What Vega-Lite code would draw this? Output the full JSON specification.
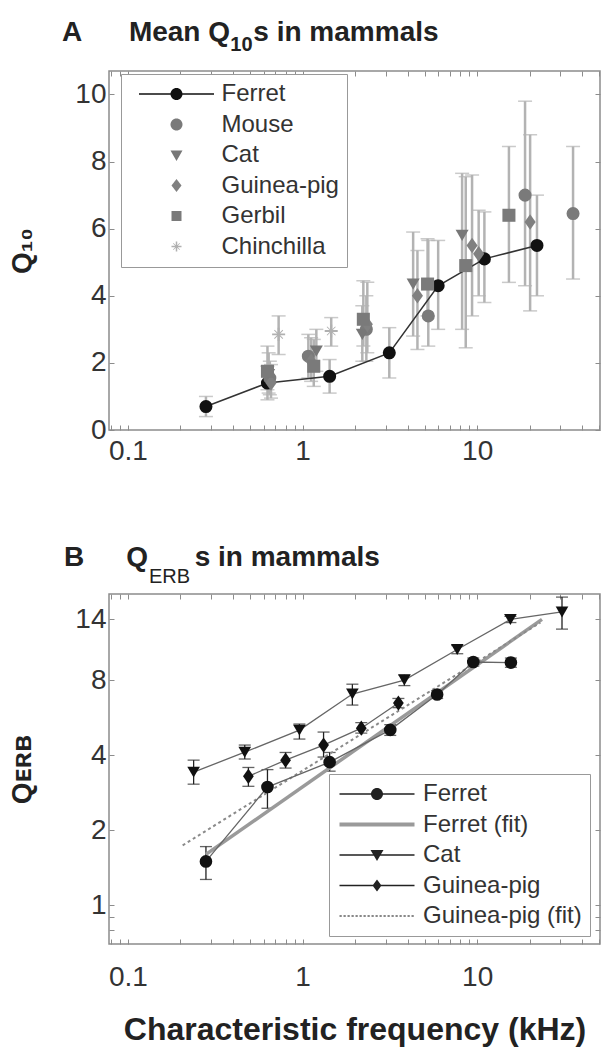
{
  "$schema": "https://vega.github.io/schema/vega-lite/v6.json",
  "background": "white",
  "padding": {"left": 8, "top": 17, "right": 10, "bottom": 4},
  "spacing": 76,
  "config": {
    "font": "Liberation Sans",
    "view": {"stroke": "#8c8c8c", "strokeWidth": 1.5},
    "axis": {
      "domain": false, "grid": false, "tickColor": "#8c8c8c", "tickSize": -5, "tickWidth": 1,
      "labelFont": "Liberation Sans", "labelFontSize": 28, "labelColor": "#333333", "labelPadding": 12,
      "titleFont": "Liberation Sans", "titleFontSize": 28, "titleFontWeight": "bold", "titleColor": "#222222",
      "labelOverlap": false
    },
    "title": {"font": "Liberation Sans", "fontSize": 28, "fontWeight": "bold", "color": "#222222", "anchor": "start", "frame": "group",
      "subtitleFont": "Liberation Sans", "subtitleFontSize": 20, "subtitleColor": "#222222", "subtitleFontWeight": "bold", "subtitlePadding": 0}
  },
  "datasets": {
    "a": [
      {"sp": "Ferret", "x": 0.28, "y": 0.70, "lo": 0.40, "hi": 1.00},
      {"sp": "Ferret", "x": 0.63, "y": 1.40, "lo": 0.90, "hi": 1.90},
      {"sp": "Ferret", "x": 1.43, "y": 1.60, "lo": 1.10, "hi": 2.10},
      {"sp": "Ferret", "x": 3.14, "y": 2.30, "lo": 1.55, "hi": 3.05},
      {"sp": "Ferret", "x": 5.98, "y": 4.30, "lo": 3.00, "hi": 5.65},
      {"sp": "Ferret", "x": 11.0, "y": 5.10, "lo": 3.80, "hi": 6.50},
      {"sp": "Ferret", "x": 22.0, "y": 5.50, "lo": 4.00, "hi": 7.00},
      {"sp": "Mouse", "x": 0.65, "y": 1.55, "lo": 1.05, "hi": 2.05},
      {"sp": "Mouse", "x": 1.08, "y": 2.20, "lo": 1.55, "hi": 2.85},
      {"sp": "Mouse", "x": 2.32, "y": 3.00, "lo": 2.05, "hi": 4.00},
      {"sp": "Mouse", "x": 5.25, "y": 3.40, "lo": 2.50, "hi": 5.65},
      {"sp": "Mouse", "x": 18.8, "y": 7.00, "lo": 4.30, "hi": 9.80},
      {"sp": "Mouse", "x": 35.4, "y": 6.45, "lo": 4.50, "hi": 8.45},
      {"sp": "Cat", "x": 0.64, "y": 1.65, "lo": 1.10, "hi": 2.30},
      {"sp": "Cat", "x": 1.20, "y": 2.35, "lo": 1.75, "hi": 3.00},
      {"sp": "Cat", "x": 2.20, "y": 2.85, "lo": 2.05, "hi": 3.70},
      {"sp": "Cat", "x": 4.30, "y": 4.35, "lo": 2.80, "hi": 5.90},
      {"sp": "Cat", "x": 8.20, "y": 5.80, "lo": 3.00, "hi": 7.65},
      {"sp": "Guinea-pig", "x": 0.66, "y": 1.40, "lo": 0.95, "hi": 1.95},
      {"sp": "Guinea-pig", "x": 1.12, "y": 2.05, "lo": 1.45, "hi": 2.75},
      {"sp": "Guinea-pig", "x": 2.35, "y": 3.15, "lo": 2.30, "hi": 4.40},
      {"sp": "Guinea-pig", "x": 4.55, "y": 4.00, "lo": 2.40, "hi": 5.35},
      {"sp": "Guinea-pig", "x": 9.35, "y": 5.50, "lo": 3.40, "hi": 7.60},
      {"sp": "Guinea-pig", "x": 10.2, "y": 5.25, "lo": 4.00, "hi": 6.55},
      {"sp": "Guinea-pig", "x": 20.1, "y": 6.20, "lo": 3.55, "hi": 8.80},
      {"sp": "Gerbil", "x": 0.63, "y": 1.75, "lo": 1.20, "hi": 2.50},
      {"sp": "Gerbil", "x": 1.16, "y": 1.90, "lo": 1.30, "hi": 2.70},
      {"sp": "Gerbil", "x": 2.23, "y": 3.30, "lo": 2.50, "hi": 4.45},
      {"sp": "Gerbil", "x": 5.20, "y": 4.35, "lo": 3.40, "hi": 5.70},
      {"sp": "Gerbil", "x": 8.60, "y": 4.90, "lo": 2.45, "hi": 7.55},
      {"sp": "Gerbil", "x": 15.2, "y": 6.40, "lo": 4.40, "hi": 8.45},
      {"sp": "Chinchilla", "x": 0.73, "y": 2.85, "lo": 2.25, "hi": 3.40},
      {"sp": "Chinchilla", "x": 1.46, "y": 2.95, "lo": 2.50, "hi": 3.35}
    ],
    "b": [
      {"sp": "Ferret", "x": 0.28, "y": 1.50, "lo": 1.27, "hi": 1.72},
      {"sp": "Ferret", "x": 0.63, "y": 2.98, "lo": 2.45, "hi": 3.50},
      {"sp": "Ferret", "x": 1.43, "y": 3.75, "lo": 3.45, "hi": 4.10},
      {"sp": "Ferret", "x": 3.18, "y": 5.05, "lo": 4.80, "hi": 5.30},
      {"sp": "Ferret", "x": 5.90, "y": 7.00, "lo": 6.75, "hi": 7.25},
      {"sp": "Ferret", "x": 9.50, "y": 9.45, "lo": 9.10, "hi": 9.80},
      {"sp": "Ferret", "x": 15.6, "y": 9.40, "lo": 9.00, "hi": 9.80},
      {"sp": "Cat", "x": 0.238, "y": 3.42, "lo": 3.06, "hi": 3.82},
      {"sp": "Cat", "x": 0.467, "y": 4.11, "lo": 3.86, "hi": 4.39},
      {"sp": "Cat", "x": 0.96, "y": 5.04, "lo": 4.64, "hi": 5.33},
      {"sp": "Cat", "x": 1.93, "y": 7.03, "lo": 6.35, "hi": 7.70},
      {"sp": "Cat", "x": 3.83, "y": 8.00, "lo": 7.60, "hi": 8.40},
      {"sp": "Cat", "x": 7.69, "y": 10.6, "lo": 10.2, "hi": 11.0},
      {"sp": "Cat", "x": 15.5, "y": 14.0, "lo": 13.6, "hi": 14.4},
      {"sp": "Cat", "x": 30.6, "y": 15.0, "lo": 12.8, "hi": 17.2},
      {"sp": "Guinea-pig", "x": 0.49, "y": 3.29, "lo": 3.00, "hi": 3.57},
      {"sp": "Guinea-pig", "x": 0.80, "y": 3.82, "lo": 3.55, "hi": 4.10},
      {"sp": "Guinea-pig", "x": 1.32, "y": 4.39, "lo": 3.93, "hi": 4.95},
      {"sp": "Guinea-pig", "x": 2.17, "y": 5.13, "lo": 4.90, "hi": 5.40},
      {"sp": "Guinea-pig", "x": 3.54, "y": 6.47, "lo": 6.20, "hi": 6.75}
    ],
    "bfit": [
      {"sp": "Ferret (fit)", "x": 0.28, "y": 1.6},
      {"sp": "Ferret (fit)", "x": 23.5, "y": 14.0},
      {"sp": "Guinea-pig (fit)", "x": 0.206, "y": 1.74},
      {"sp": "Guinea-pig (fit)", "x": 23.0, "y": 13.6}
    ]
  },
  "vconcat": [
    {
      "width": 491,
      "height": 359,
      "title": {"text": "A\u2003\u2002\u2006Mean Q\u2002\u2004s in mammals", "subtitle": "\u200b\u2003\u2003\u2003\u2003\u2003\u2003\u2003\u2003\u2005\u200610", "subtitlePadding": -12, "dx": -47, "offset": 16},
      "layer": [
        {
          "data": {"name": "a"},
          "mark": {"type": "errorbar", "ticks": {"size": 14, "color": "#b3b3b3", "thickness": 1.5}, "rule": {"color": "#b3b3b3", "strokeWidth": 2.5}},
          "encoding": {
            "x": {"field": "x", "type": "quantitative", "title": null,
              "scale": {"type": "log", "domain": [0.078, 50.5], "nice": false},
              "axis": {"values": [0.08,0.09,0.1,0.2,0.3,0.4,0.5,0.6,0.7,0.8,0.9,1,2,3,4,5,6,7,8,9,10,20,30,40,50],
                "labelExpr": "datum.value == 0.1 || datum.value == 1 || datum.value == 10 ? datum.value + '' : ''"}},
            "y": {"field": "lo", "type": "quantitative", "title": "Q\u2081\u2080",
              "scale": {"domain": [0, 10.7], "nice": false, "zero": false},
              "axis": {"values": [0, 2, 4, 6, 8, 10], "titlePadding": 38, "labelPadding": 8}},
            "y2": {"field": "hi"}
          }
        },
        {
          "data": {"name": "a"},
          "transform": [{"filter": "datum.sp == 'Ferret'"}],
          "mark": {"type": "line", "color": "#333333", "strokeWidth": 1.5},
          "encoding": {
            "x": {"field": "x", "type": "quantitative", "title": null,
              "axis": {"orient": "top", "labels": false, "title": null, "values": [0.08,0.09,0.1,0.2,0.3,0.4,0.5,0.6,0.7,0.8,0.9,1,2,3,4,5,6,7,8,9,10,20,30,40,50]}},
            "y": {"field": "y", "type": "quantitative", "title": "Q\u2081\u2080",
              "axis": {"orient": "right", "labels": false, "title": null, "values": [0, 2, 4, 6, 8, 10]}}
          }
        },
        {
          "data": {"name": "a"},
          "mark": {"type": "point", "filled": true, "size": 170, "opacity": 1, "strokeWidth": 0},
          "encoding": {
            "x": {"field": "x", "type": "quantitative", "title": null, "axis": null},
            "y": {"field": "y", "type": "quantitative", "title": "Q\u2081\u2080", "axis": null},
            "shape": {"field": "sp", "type": "nominal", "legend": null,
              "scale": {"domain": ["Ferret", "Mouse", "Cat", "Guinea-pig", "Gerbil", "Chinchilla"],
                "range": ["circle", "circle", "triangle-down", "M0,-1.2L0.85,0L0,1.2L-0.85,0Z", "square",
                  "M-1,-0.15H1V0.15H-1Z M-0.15,-1H0.15V1H-0.15Z M-0.6,-0.7L0.7,0.6L0.6,0.7L-0.7,-0.6Z M0.6,-0.7L0.7,-0.6L-0.6,0.7L-0.7,0.6Z"]}},
            "color": {"field": "sp", "type": "nominal", "legend": null,
              "scale": {"domain": ["Ferret", "Mouse", "Cat", "Guinea-pig", "Gerbil", "Chinchilla"],
                "range": ["#111111", "#7a7a7a", "#777777", "#808080", "#7a7a7a", "#b0b0b0"]}}
          }
        },
        {
          "data": {"name": "a"},
          "transform": [{"filter": "false"}],
          "mark": {"type": "point", "filled": true, "opacity": 1, "strokeWidth": 0},
          "encoding": {
            "shape": {"field": "sp", "type": "nominal",
              "scale": {"domain": ["Ferret", "Mouse", "Cat", "Guinea-pig", "Gerbil", "Chinchilla"],
                "range": [
                  "M-7.5,-0.13H7.5V0.13H-7.5Z M-1.2,0A1.2,1.2 0 1,1 1.2,0A1.2,1.2 0 1,1 -1.2,0Z",
                  "M-1.2,0A1.2,1.2 0 1,1 1.2,0A1.2,1.2 0 1,1 -1.2,0Z",
                  "M-1.2,-0.9L1.2,-0.9L0,1.2Z",
                  "M0,-1.3L1,0L0,1.3L-1,0Z",
                  "M-1,-1H1V1H-1Z",
                  "M-1,-0.15H1V0.15H-1Z M-0.15,-1H0.15V1H-0.15Z M-0.6,-0.7L0.7,0.6L0.6,0.7L-0.7,-0.6Z M0.6,-0.7L0.7,-0.6L-0.6,0.7L-0.7,0.6Z"]},
              "legend": {"orient": "none", "legendX": 12, "legendY": 3, "title": null, "strokeColor": "#999999", "fillColor": "white",
                "padding": 8, "symbolSize": 100, "symbolStrokeWidth": 0, "symbolOffset": 35.5, "labelOffset": 33,
                "labelFont": "Liberation Sans", "labelFontSize": 24, "labelColor": "#333333", "rowPadding": 6.5, "symbolOpacity": 1}},
            "color": {"field": "sp", "type": "nominal",
              "scale": {"domain": ["Ferret", "Mouse", "Cat", "Guinea-pig", "Gerbil", "Chinchilla"],
                "range": ["#111111", "#7a7a7a", "#777777", "#808080", "#7a7a7a", "#b0b0b0"]},
              "legend": {"orient": "none", "legendX": 12, "legendY": 3, "title": null, "strokeColor": "#999999", "fillColor": "white",
                "padding": 8, "symbolSize": 100, "symbolStrokeWidth": 0, "symbolOffset": 35.5, "labelOffset": 33,
                "labelFont": "Liberation Sans", "labelFontSize": 24, "labelColor": "#333333", "rowPadding": 6.5, "symbolOpacity": 1}}
          }
        }
      ],
      "resolve": {"scale": {"shape": "independent", "color": "independent"}, "axis": {"x": "independent", "y": "independent"}}
    },
    {
      "width": 491,
      "height": 350,
      "title": {"text": "B\u2003\u2002Q\u2003\u2002\u2006s in mammals", "subtitle": "\u200b\u2003\u2003\u2003\u2003\u2005ERB", "subtitleFontWeight": "normal", "subtitlePadding": -5, "dx": -45, "offset": 7},
      "layer": [
        {
          "data": {"name": "b"},
          "mark": {"type": "errorbar", "ticks": {"size": 12, "color": "#222222", "thickness": 1.3}, "rule": {"color": "#222222", "strokeWidth": 1.3}},
          "encoding": {
            "x": {"field": "x", "type": "quantitative", "title": "Characteristic frequency (kHz)",
              "scale": {"type": "log", "domain": [0.078, 50.5], "nice": false},
              "axis": {"values": [0.08,0.09,0.1,0.2,0.3,0.4,0.5,0.6,0.7,0.8,0.9,1,2,3,4,5,6,7,8,9,10,20,30,40,50],
                "labelExpr": "datum.value == 0.1 || datum.value == 1 || datum.value == 10 ? datum.value + '' : ''",
                "labelPadding": 24, "titlePadding": 23, "titleFontSize": 32}},
            "y": {"field": "lo", "type": "quantitative", "title": "Q\u1d07\u0280\u0299",
              "scale": {"type": "log", "domain": [0.7, 17.7], "nice": false},
              "axis": {"values": [0.8, 0.9, 1, 2, 4, 8, 14], "labelExpr": "datum.value >= 1 ? datum.value + '' : ''", "titlePadding": 38, "labelPadding": 8}},
            "y2": {"field": "hi"}
          }
        },
        {
          "data": {"name": "bfit"},
          "transform": [{"filter": "datum.sp == 'Ferret (fit)'"}],
          "mark": {"type": "line", "color": "#9a9a9a", "strokeWidth": 3.5},
          "encoding": {
            "x": {"field": "x", "type": "quantitative", "title": "Characteristic frequency (kHz)",
              "axis": {"orient": "top", "labels": false, "title": null, "values": [0.08,0.09,0.1,0.2,0.3,0.4,0.5,0.6,0.7,0.8,0.9,1,2,3,4,5,6,7,8,9,10,20,30,40,50]}},
            "y": {"field": "y", "type": "quantitative", "title": "Q\u1d07\u0280\u0299",
              "axis": {"orient": "right", "labels": false, "title": null, "values": [0.8, 0.9, 1, 2, 4, 8, 14]}}
          }
        },
        {
          "data": {"name": "bfit"},
          "transform": [{"filter": "datum.sp == 'Guinea-pig (fit)'"}],
          "mark": {"type": "line", "color": "#8a8a8a", "strokeWidth": 2, "strokeDash": [3, 3]},
          "encoding": {
            "x": {"field": "x", "type": "quantitative", "title": "Characteristic frequency (kHz)", "axis": null},
            "y": {"field": "y", "type": "quantitative", "title": "Q\u1d07\u0280\u0299", "axis": null}
          }
        },
        {
          "data": {"name": "b"},
          "mark": {"type": "line", "color": "#666666", "strokeWidth": 1.3},
          "encoding": {
            "x": {"field": "x", "type": "quantitative", "title": "Characteristic frequency (kHz)", "axis": null},
            "y": {"field": "y", "type": "quantitative", "title": "Q\u1d07\u0280\u0299", "axis": null},
            "detail": {"field": "sp", "type": "nominal"}
          }
        },
        {
          "data": {"name": "b"},
          "mark": {"type": "point", "filled": true, "size": 160, "opacity": 1, "strokeWidth": 0, "color": "#111111"},
          "encoding": {
            "x": {"field": "x", "type": "quantitative", "title": "Characteristic frequency (kHz)", "axis": null},
            "y": {"field": "y", "type": "quantitative", "title": "Q\u1d07\u0280\u0299", "axis": null},
            "shape": {"field": "sp", "type": "nominal", "legend": null,
              "scale": {"domain": ["Ferret", "Cat", "Guinea-pig"],
                "range": ["circle", "triangle-down", "M0,-1.2L0.85,0L0,1.2L-0.85,0Z"]}}
          }
        },
        {
          "data": {"name": "b"},
          "transform": [{"filter": "false"}],
          "mark": {"type": "point", "filled": true, "opacity": 1, "strokeWidth": 0},
          "encoding": {
            "shape": {"field": "sp", "type": "nominal",
              "scale": {"domain": ["Ferret", "Ferret (fit)", "Cat", "Guinea-pig", "Guinea-pig (fit)"],
                "range": [
                  "M-7.5,-0.13H7.5V0.13H-7.5Z M-1.2,0A1.2,1.2 0 1,1 1.2,0A1.2,1.2 0 1,1 -1.2,0Z",
                  "M-7.5,-0.4H7.5V0.4H-7.5Z",
                  "M-7.5,-0.13H7.5V0.13H-7.5Z M-1.3,-1L1.3,-1L0,1.2Z",
                  "M-7.5,-0.13H7.5V0.13H-7.5Z M0,-1.2L0.9,0L0,1.2L-0.9,0Z",
                  "M-7.5,-0.18h0.45v0.36h-0.45Z M-6.7,-0.18h0.45v0.36h-0.45Z M-5.9,-0.18h0.45v0.36h-0.45Z M-5.1,-0.18h0.45v0.36h-0.45Z M-4.3,-0.18h0.45v0.36h-0.45Z M-3.5,-0.18h0.45v0.36h-0.45Z M-2.7,-0.18h0.45v0.36h-0.45Z M-1.9,-0.18h0.45v0.36h-0.45Z M-1.1,-0.18h0.45v0.36h-0.45Z M-0.3,-0.18h0.45v0.36h-0.45Z M0.5,-0.18h0.45v0.36h-0.45Z M1.3,-0.18h0.45v0.36h-0.45Z M2.1,-0.18h0.45v0.36h-0.45Z M2.9,-0.18h0.45v0.36h-0.45Z M3.7,-0.18h0.45v0.36h-0.45Z M4.5,-0.18h0.45v0.36h-0.45Z M5.3,-0.18h0.45v0.36h-0.45Z M6.1,-0.18h0.45v0.36h-0.45Z M6.9,-0.18h0.45v0.36h-0.45Z"]},
              "legend": {"orient": "none", "legendX": 220, "legendY": 180, "title": null, "strokeColor": "#999999", "fillColor": "white",
                "padding": 8, "symbolSize": 100, "symbolStrokeWidth": 0, "symbolOffset": 28, "labelOffset": 34,
                "labelFont": "Liberation Sans", "labelFontSize": 24, "labelColor": "#333333", "rowPadding": 6.5, "symbolOpacity": 1}},
            "color": {"field": "sp", "type": "nominal",
              "scale": {"domain": ["Ferret", "Ferret (fit)", "Cat", "Guinea-pig", "Guinea-pig (fit)"],
                "range": ["#222222", "#9a9a9a", "#222222", "#222222", "#888888"]},
              "legend": {"orient": "none", "legendX": 220, "legendY": 180, "title": null, "strokeColor": "#999999", "fillColor": "white",
                "padding": 8, "symbolSize": 100, "symbolStrokeWidth": 0, "symbolOffset": 28, "labelOffset": 34,
                "labelFont": "Liberation Sans", "labelFontSize": 24, "labelColor": "#333333", "rowPadding": 6.5, "symbolOpacity": 1}}
          }
        }
      ],
      "resolve": {"scale": {"shape": "independent", "color": "independent"}, "axis": {"x": "independent", "y": "independent"}}
    }
  ]
}
